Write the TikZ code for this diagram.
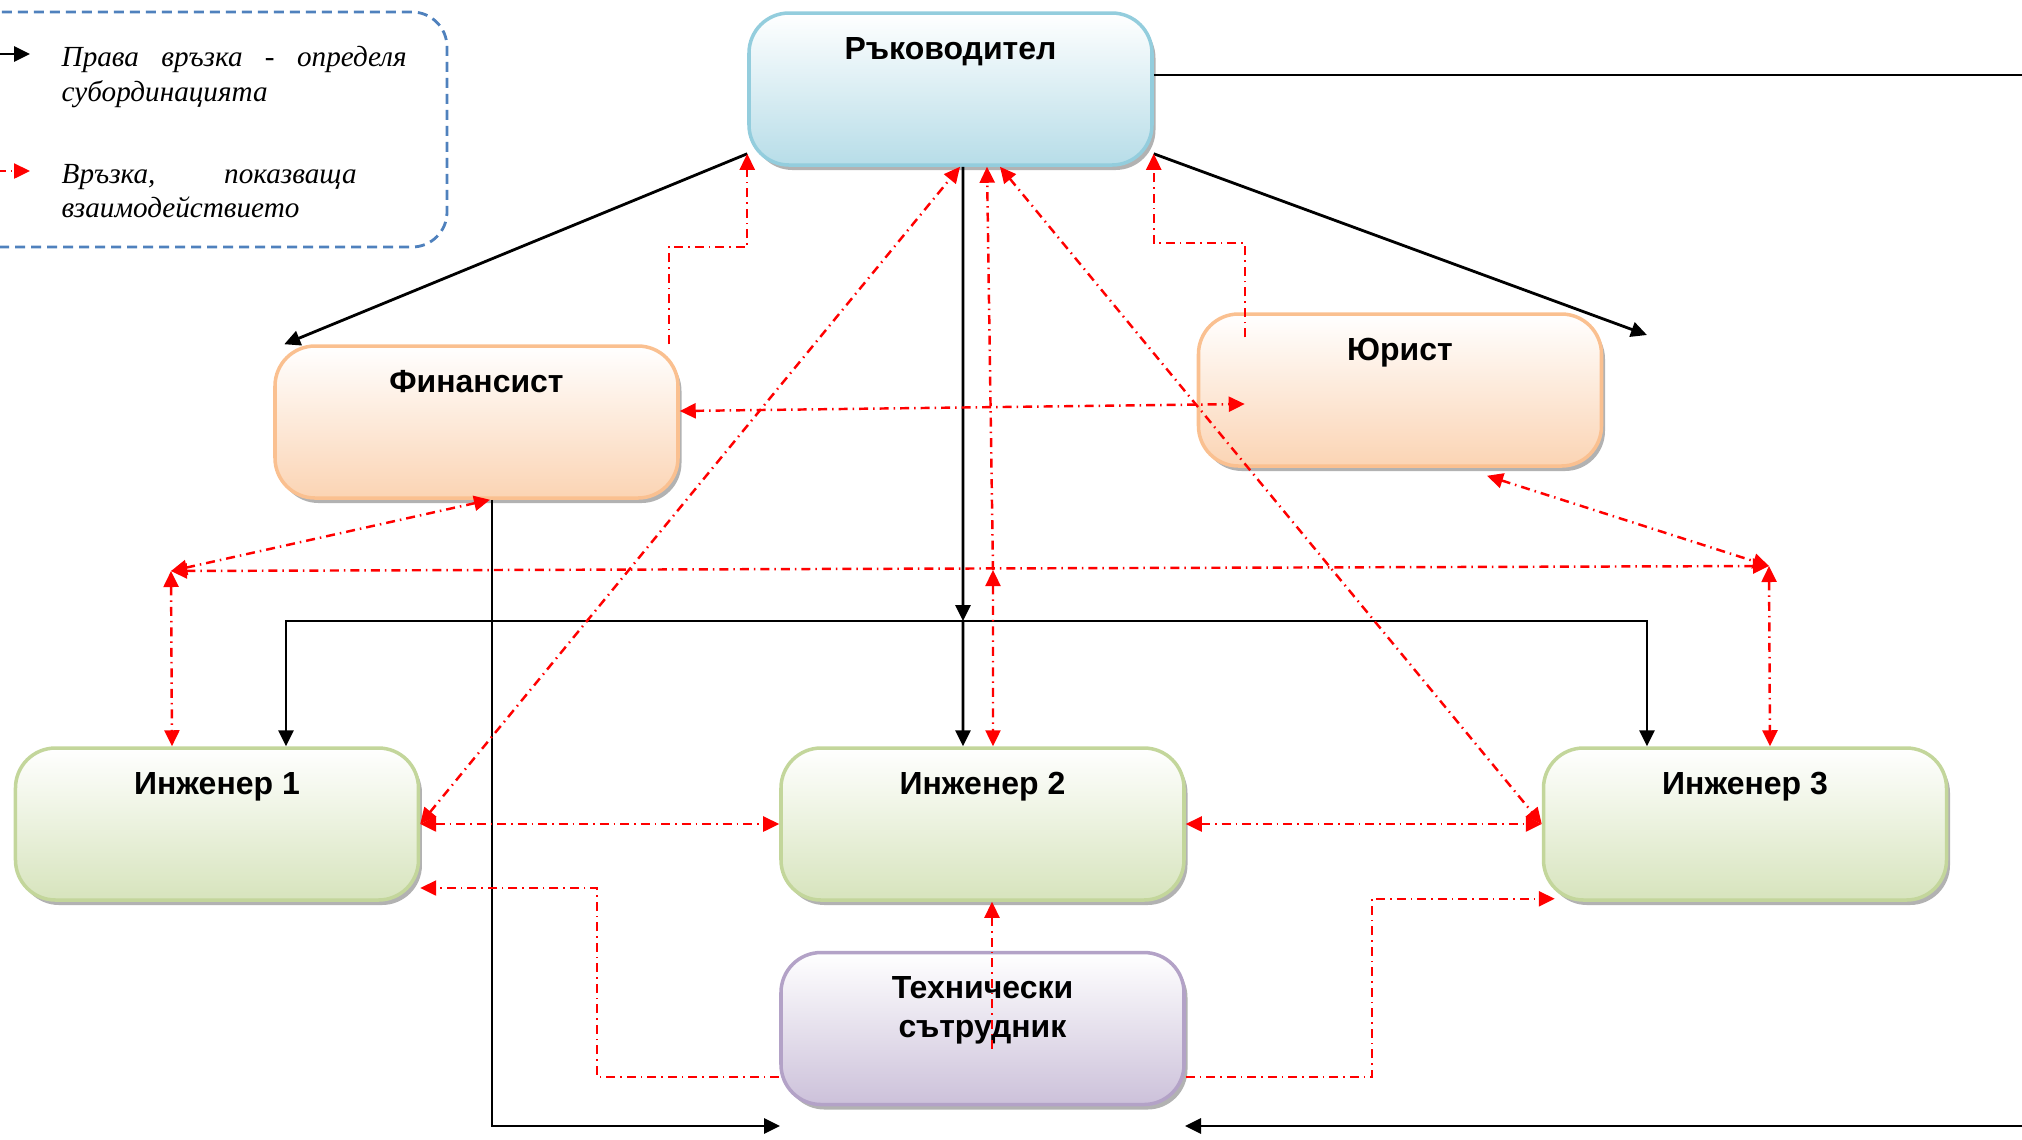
\documentclass[tikz,border=0pt]{standalone}
\usepackage{fontspec}
\setmainfont{Liberation Serif}
\setsansfont{Liberation Sans}
\usetikzlibrary{arrows.meta,positioning,shadows}
\definecolor{rukline}{HTML}{93CDDD}
\definecolor{rukfill}{HTML}{B7DDE8}
\definecolor{finline}{HTML}{FAC090}
\definecolor{finfill}{HTML}{FBD4B4}
\definecolor{engline}{HTML}{C3D69B}
\definecolor{engfill}{HTML}{D7E4BD}
\definecolor{techline}{HTML}{B3A2C7}
\definecolor{techfill}{HTML}{CCC1DA}
\definecolor{legline}{HTML}{4F81BD}
\definecolor{relred}{RGB}{255,0,0}

\begin{document}
\begin{tikzpicture}[>={Triangle[length=1.6mm,width=1.5mm]},
  box/.style={rectangle, rounded corners=0.4cm, minimum width=4.03cm, minimum height=1.52cm, line width=1pt,
    drop shadow={shadow xshift=0.35mm, shadow yshift=-0.5mm, fill=black!60, opacity=0.5}},
  rukbox/.style={box, draw=rukline, top color=white, bottom color=rukfill},
  finbox/.style={box, draw=finline, top color=white, bottom color=finfill},
  engbox/.style={box, draw=engline, top color=white, bottom color=engfill},
  techbox/.style={box, draw=techline, top color=white, bottom color=techfill},
  boxtitle/.style={anchor=north, yshift=-2.55mm, inner sep=0pt, align=center, font=\sffamily\bfseries\fontsize{9.1}{10.9}\selectfont},
  subline/.style={black, line width=0.8pt},
  relline/.style={relred, line width=0.7pt, dash pattern=on 0.9mm off 0.5mm on 0.15mm off 0.5mm},
  legbox/.style={legline, line width=0.8pt, dash pattern=on 1mm off 0.6mm, rounded corners=0.35cm},
  legtext/.style={anchor=north west, inner sep=0pt, align=justify, font=\itshape\fontsize{8.3}{9.7}\selectfont}]
\useasboundingbox (0,0) rectangle (20.22,-11.39);

% boxes
\node[rukbox, label={[boxtitle]north:Ръководител}] (ruk) at (9.505,-0.89) {};
\node[finbox, label={[boxtitle]north:Финансист}] (fin) at (4.765,-4.22) {};
\node[finbox, label={[boxtitle]north:Юрист}] (yur) at (14.00,-3.90) {};
\node[engbox, label={[boxtitle]north:Инженер 2}] (eng2) at (9.825,-8.24) {};
\node[engbox, left=3.59cm of eng2, label={[boxtitle]north:Инженер 1}] (eng1) {};
\node[engbox, right=3.56cm of eng2, label={[boxtitle]north:Инженер 3}] (eng3) {};
\node[techbox, below=0.49cm of eng2, label={[boxtitle]north:{Технически\\сътрудник}}] (tech) {};

\coordinate (jct) at (9.63,-6.21);
\coordinate (lhub) at (1.71,-5.71);
\coordinate (rhub) at (17.69,-5.66);
\coordinate (redjct) at (9.93,-5.70);
\coordinate (rhead) at (16.47,-3.35);
\coordinate (rukout) at (20.22,-0.75);
\coordinate (finlow) at (7.80,-11.26);
\coordinate (botright) at (20.22,-11.26);
\coordinate (techin) at (11.85,-11.26);

% subordination
\draw[subline,->] ([yshift=1.3mm]ruk.south west) -- ([xshift=1.1mm]fin.north west);
\draw[subline,->] ([yshift=1.3mm]ruk.south east) -- (rhead);
\draw[subline] ([yshift=1.4mm]ruk.east) -- (rukout);
\draw[subline,->] ([xshift=1.25mm]ruk.south) -- (jct);
\draw[subline,->] (jct) -- ([xshift=-1.95mm]eng2.north);
\draw[subline,->] (jct) -| ([xshift=6.9mm]eng1.north);
\draw[subline,->] (jct) -| ([xshift=-9.8mm]eng3.north);
\draw[subline,->] ([xshift=1.55mm]fin.south) |- (finlow);
\draw[subline,->] (botright) -- (techin);

% interaction
\draw[relline,->] ([xshift=-1.1mm]fin.north east) -- ++(0,0.97) -| ([yshift=1.3mm]ruk.south west);
\draw[relline,->] ([shift={(4.8mm,-2.5mm)}]yur.north west) -- ++(0,0.94) -| ([yshift=1.3mm]ruk.south east);
\draw[relline,<->] ([yshift=1.1mm]fin.east) -- ([shift={(4.8mm,-1.4mm)}]yur.west);
\draw[relline,<->] (eng1.east) -- ([xshift=0.95mm]ruk.south);
\draw[relline,<->] ([xshift=4.95mm]ruk.south) -- (eng3.west);
\draw[relline,->] (redjct) -- ([xshift=3.65mm]ruk.south);
\draw[relline,<->] (redjct) -- ([xshift=1.05mm]eng2.north);
\draw[relline,->] ([shift={(0.95mm,-2.05mm)}]tech.center) -- ([xshift=0.95mm]eng2.south);
\draw[relline,<->] (eng1.east) -- (eng2.west);
\draw[relline,<->] (eng2.east) -- (eng3.west);
\draw[relline,->] ([yshift=-4.85mm]tech.west) -- ++(-1.82,0) |- ([yshift=-6.4mm]eng1.east);
\draw[relline,->] ([yshift=-4.85mm]tech.east) -- ++(1.86,0) |- ([shift={(1.3mm,0.3mm)}]eng3.south west);
\draw[relline,<->] (lhub) -- (rhub);
\draw[relline,<->] ([xshift=1.35mm]fin.south) -- (lhub);
\draw[relline,<->] (lhub) -- ([xshift=-4.5mm]eng1.north);
\draw[relline,<->] ([shift={(8.7mm,-0.8mm)}]yur.south) -- (rhub);
\draw[relline,<->] (rhub) -- ([xshift=2.5mm]eng3.north);

% legend
\draw[legbox] (-0.4,-0.12) rectangle (4.47,-2.47);
\coordinate (keya) at (-0.1,-0.54);
\coordinate (keyb) at (0.30,-0.54);
\coordinate (keyc) at (-0.03,-1.71);
\coordinate (keyd) at (0.30,-1.71);
\draw[subline,->] (keya) -- (keyb);
\draw[relline,->] (keyc) -- (keyd);
\node[legtext, text width=3.45cm] (leg1) at (0.61,-0.46) {Права връзка - определя\linebreak субординацията};
\node[legtext, text width=2.95cm] (leg2) at (0.61,-1.64) {Връзка, показваща\linebreak взаимодействието};
\end{tikzpicture}
\end{document}
